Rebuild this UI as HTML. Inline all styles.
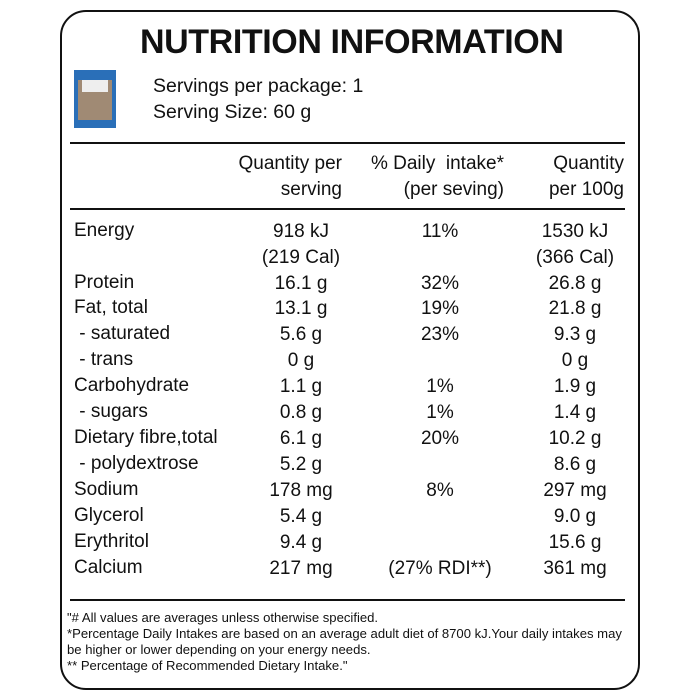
<!DOCTYPE html>
<html><head><style>
body{margin:0;width:700px;height:700px;background:#fff;position:relative;overflow:hidden;font-family:"Liberation Sans",sans-serif;color:#111}
.box{position:absolute;left:60px;top:10px;width:576px;height:676px;border:2.5px solid #111;border-radius:26px}
.t{position:absolute;white-space:nowrap;line-height:1}
.hr{position:absolute;left:70px;width:555px;height:2px;background:#111}
.r{font-size:19px}
.c2{position:absolute;width:120px;left:241px;text-align:center}
.c3{position:absolute;width:120px;left:380px;text-align:center}
.c4{position:absolute;width:120px;left:515px;text-align:center}
.f{font-size:13.1px;left:67px}
</style></head><body>
<div class="box"></div>
<div class="t" style="left:140px;top:25px;font-size:34px;font-weight:bold;letter-spacing:-0.4px">NUTRITION INFORMATION</div>
<div style="position:absolute;left:74px;top:70px;width:42px;height:58px;background:#2a6fb8"></div>
<div style="position:absolute;left:78px;top:80px;width:34px;height:40px;background:#a08a74"></div>
<div style="position:absolute;left:82px;top:80px;width:26px;height:12px;background:#eee"></div>
<div class="t r" style="left:153px;top:77px;font-size:19.5px">Servings per package: 1</div>
<div class="t r" style="left:153px;top:103px;font-size:19.5px">Serving Size: 60 g</div>
<div class="hr" style="top:142px"></div>
<div class="t r" style="left:222px;top:154px;width:120px;text-align:right">Quantity per</div>
<div class="t r" style="left:222px;top:180px;width:120px;text-align:right">serving</div>
<div class="t r" style="left:350px;top:154px;width:154px;text-align:right">% Daily&nbsp; intake*</div>
<div class="t r" style="left:350px;top:180px;width:154px;text-align:right">(per seving)</div>
<div class="t r" style="left:520px;top:154px;width:104px;text-align:right">Quantity</div>
<div class="t r" style="left:520px;top:180px;width:104px;text-align:right">per 100g</div>
<div class="hr" style="top:208px"></div>

<div class="t r" style="left:74px;top:221px">Energy</div>
<div class="t r c2" style="top:222px">918 kJ</div><div class="t r c3" style="top:222px">11%</div><div class="t r c4" style="top:222px">1530 kJ</div>
<div class="t r c2" style="top:248px">(219 Cal)</div><div class="t r c4" style="top:248px">(366 Cal)</div>

<div class="t r" style="left:74px;top:273px">Protein</div>
<div class="t r c2" style="top:274px">16.1 g</div><div class="t r c3" style="top:274px">32%</div><div class="t r c4" style="top:274px">26.8 g</div>
<div class="t r" style="left:74px;top:298px">Fat, total</div>
<div class="t r c2" style="top:299px">13.1 g</div><div class="t r c3" style="top:299px">19%</div><div class="t r c4" style="top:299px">21.8 g</div>
<div class="t r" style="left:74px;top:324px">&nbsp;- saturated</div>
<div class="t r c2" style="top:325px">5.6 g</div><div class="t r c3" style="top:325px">23%</div><div class="t r c4" style="top:325px">9.3 g</div>
<div class="t r" style="left:74px;top:350px">&nbsp;- trans</div>
<div class="t r c2" style="top:351px">0 g</div><div class="t r c4" style="top:351px">0 g</div>
<div class="t r" style="left:74px;top:376px">Carbohydrate</div>
<div class="t r c2" style="top:377px">1.1 g</div><div class="t r c3" style="top:377px">1%</div><div class="t r c4" style="top:377px">1.9 g</div>
<div class="t r" style="left:74px;top:402px">&nbsp;- sugars</div>
<div class="t r c2" style="top:403px">0.8 g</div><div class="t r c3" style="top:403px">1%</div><div class="t r c4" style="top:403px">1.4 g</div>
<div class="t r" style="left:74px;top:428px">Dietary fibre,total</div>
<div class="t r c2" style="top:429px">6.1 g</div><div class="t r c3" style="top:429px">20%</div><div class="t r c4" style="top:429px">10.2 g</div>
<div class="t r" style="left:74px;top:454px">&nbsp;- polydextrose</div>
<div class="t r c2" style="top:455px">5.2 g</div><div class="t r c4" style="top:455px">8.6 g</div>
<div class="t r" style="left:74px;top:480px">Sodium</div>
<div class="t r c2" style="top:481px">178 mg</div><div class="t r c3" style="top:481px">8%</div><div class="t r c4" style="top:481px">297 mg</div>
<div class="t r" style="left:74px;top:506px">Glycerol</div>
<div class="t r c2" style="top:507px">5.4 g</div><div class="t r c4" style="top:507px">9.0 g</div>
<div class="t r" style="left:74px;top:532px">Erythritol</div>
<div class="t r c2" style="top:533px">9.4 g</div><div class="t r c4" style="top:533px">15.6 g</div>
<div class="t r" style="left:74px;top:558px">Calcium</div>
<div class="t r c2" style="top:559px">217 mg</div><div class="t r c3" style="top:559px">(27% RDI**)</div><div class="t r c4" style="top:559px">361 mg</div>

<div class="hr" style="top:599px"></div>
<div class="t f" style="top:611px">"# All values are averages unless otherwise specified.</div>
<div class="t f" style="top:627px">*Percentage Daily Intakes are based on an average adult diet of 8700 kJ.Your daily intakes may</div>
<div class="t f" style="top:643px">be higher or lower depending on your energy needs.</div>
<div class="t f" style="top:659px">** Percentage of Recommended Dietary Intake."</div>
</body></html>
